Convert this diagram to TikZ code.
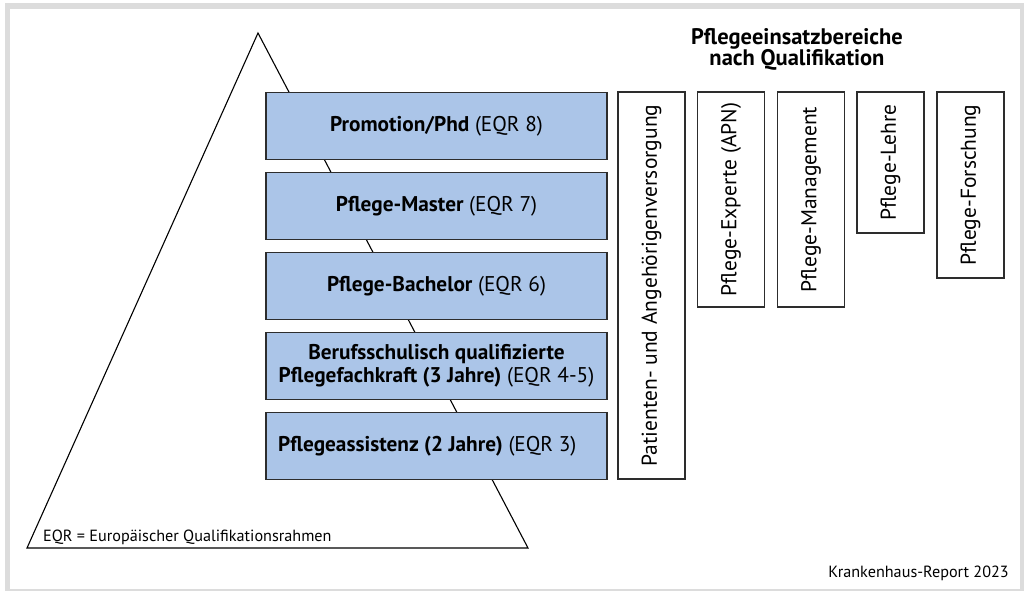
\documentclass[tikz,border=0pt]{standalone}
\usepackage{fontspec}
\setmainfont{PT Sans}
\definecolor{qblue}{RGB}{171,197,232}
\definecolor{frame}{RGB}{220,220,220}
\definecolor{edge}{RGB}{45,45,45}
\begin{document}
\begin{tikzpicture}[x=1pt,y=-1pt,
  qbox/.style={draw=edge, fill=qblue, line width=1.2pt, minimum width=341pt, minimum height=67pt, inner sep=0pt, align=center, font=\fontsize{21.3}{22.5}\selectfont},
  abox/.style={draw=edge, fill=white, line width=1.2pt, rotate=90, minimum height=67pt, inner sep=0pt, font=\fontsize{21.5}{24}\selectfont},
  small/.style={font=\fontsize{16.2}{18}\selectfont, inner sep=0pt}
]
\useasboundingbox (0,0) rectangle (1024,591);
\fill[frame] (5,3) rectangle (1024,591);
\fill[white] (10,9) rectangle (1020,589);
% pyramid
\draw[line width=1.1pt, line join=miter] (258,33) -- (27,548) -- (528,548) -- cycle;
% qualification boxes
\node[qbox] (q1) at (436.5,125.8) {\textbf{Promotion/Phd} (EQR 8)};
\node[qbox] (q2) at (436.5,205.8) {\textbf{Pflege-Master} (EQR 7)};
\node[qbox] (q3) at (436.5,285.8) {\textbf{Pflege-Bachelor} (EQR 6)};
\node[qbox] (q4) at (436.5,365.8) {\textbf{Berufsschulisch qualifizierte}\\\textbf{Pflegefachkraft (3 Jahre)} (EQR 4-5)};
\node[qbox] (q5) at (436.5,445.8) {};
\node[anchor=west, inner sep=0pt, font=\fontsize{21.3}{22.5}\selectfont] (q5t) at (278,445.8) {\textbf{Pflegeassistenz (2 Jahre)} (EQR 3)};
% areas
\node[anchor=base, inner sep=0pt, align=center, font=\bfseries\fontsize{22.5}{21.5}\selectfont] (title) at (797,66) {Pflegeeinsatzbereiche\\nach Qualifikation};
\node[abox, minimum width=387pt] (a1) at (651.5,285.5) {Patienten- und Angehörigenversorgung};
\node[abox, minimum width=215pt] (a2) at (731,199.5) {Pflege-Experte (APN)};
\node[abox, minimum width=215pt] (a3) at (811,199.5) {Pflege-Management};
\node[abox, minimum width=141pt] (a4) at (890.5,162.5) {Pflege-Lehre};
\node[abox, minimum width=186pt] (a5) at (970.5,185) {Pflege-Forschung};
% notes
\node[small, anchor=base west] (eqr) at (43,541) {EQR = Europäischer Qualifikationsrahmen};
\node[small, anchor=base east] (src) at (1009,577.7) {Krankenhaus-Report 2023};
\end{tikzpicture}
\end{document}
